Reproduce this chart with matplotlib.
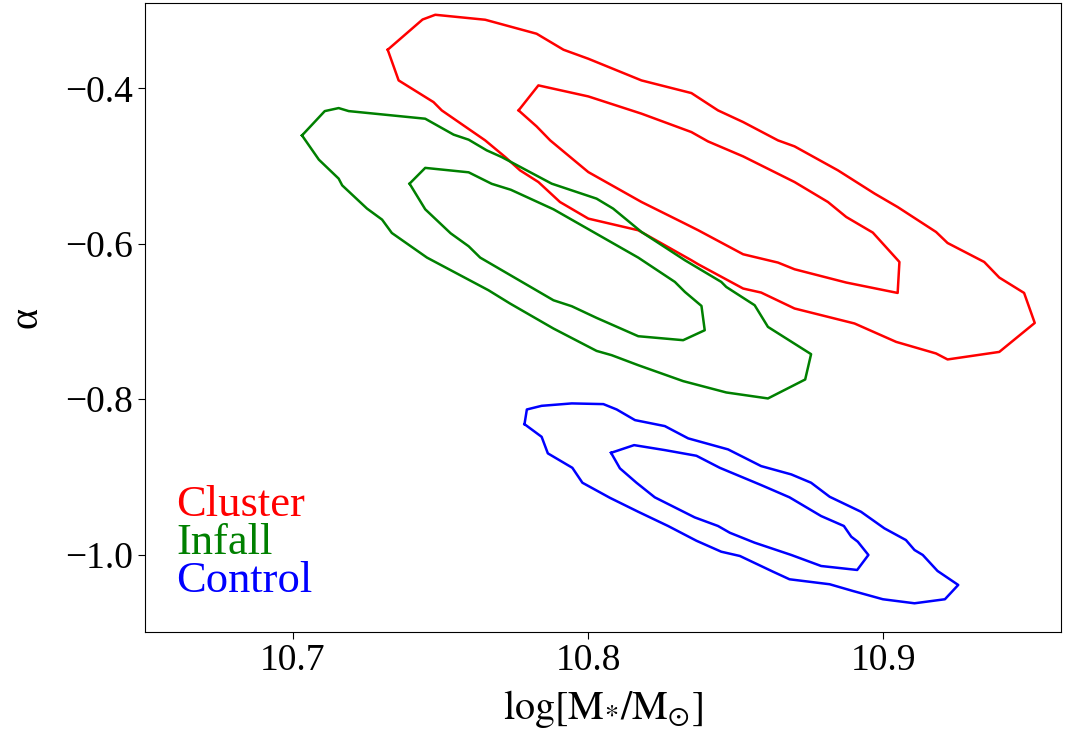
import matplotlib
matplotlib.use("Agg")
import matplotlib.pyplot as plt
import numpy as np

plt.rcParams["font.family"] = ["Liberation Serif", "DejaVu Serif"]
plt.rcParams["mathtext.fontset"] = "stix"

# confidence contours in the (log M*, alpha) plane, vertices in data units
cluster_outer_x = [10.7322, 10.7440, 10.7483, 10.7652, 10.7826, 10.7917, 10.8001, 10.8181,
                   10.8350, 10.8440, 10.8525, 10.8643, 10.8699, 10.8846, 10.8970, 10.9048,
                   10.9178, 10.9217, 10.9341, 10.9392, 10.9476, 10.9512, 10.9392, 10.9217,
                   10.9178, 10.9043, 10.8902, 10.8699, 10.8586, 10.8525, 10.8373, 10.8350,
                   10.8170, 10.8001, 10.7905, 10.7832, 10.7770, 10.7720, 10.7652, 10.7505,
                   10.7477, 10.7359]
cluster_outer_y = [-0.3502, -0.3113, -0.3052, -0.3116, -0.3296, -0.3502, -0.3618, -0.3897,
                   -0.4060, -0.4283, -0.4433, -0.4669, -0.4746, -0.5055, -0.5354, -0.5527,
                   -0.5848, -0.5990, -0.6234, -0.6435, -0.6633, -0.7019, -0.7392, -0.7489,
                   -0.7412, -0.7263, -0.7026, -0.6833, -0.6628, -0.6576, -0.6264, -0.6212,
                   -0.5826, -0.5676, -0.5462, -0.5205, -0.5055, -0.4884, -0.4669, -0.4283,
                   -0.4176, -0.3897]

cluster_inner_x = [10.7765, 10.7832, 10.8001, 10.8181, 10.8350, 10.8406, 10.8525, 10.8699,
                   10.8812, 10.8874, 10.8964, 10.9054, 10.9048, 10.8874, 10.8699, 10.8643,
                   10.8525, 10.8373, 10.8328, 10.8181, 10.8001, 10.7933, 10.7872, 10.7826]
cluster_inner_y = [-0.4283, -0.3961, -0.4103, -0.4325, -0.4562, -0.4682, -0.4875, -0.5205,
                   -0.5462, -0.5655, -0.5856, -0.6234, -0.6633, -0.6499, -0.6328, -0.6242,
                   -0.6135, -0.5826, -0.5740, -0.5462, -0.5077, -0.4862, -0.4669, -0.4489]

infall_outer_x = [10.7032, 10.7109, 10.7156, 10.7190, 10.7449, 10.7545, 10.7596, 10.7657,
                  10.7708, 10.7877, 10.8029, 10.8085, 10.8181, 10.8328, 10.8451, 10.8468,
                  10.8564, 10.8609, 10.8755, 10.8735, 10.8609, 10.8468, 10.8322, 10.8170,
                  10.8080, 10.8029, 10.7883, 10.7736, 10.7663, 10.7455, 10.7336, 10.7303,
                  10.7252, 10.7168, 10.7156, 10.7089]
infall_outer_y = [-0.4605, -0.4292, -0.4253, -0.4292, -0.4390, -0.4595, -0.4660, -0.4797,
                  -0.4884, -0.5226, -0.5419, -0.5547, -0.5848, -0.6212, -0.6491, -0.6556,
                  -0.6791, -0.7070, -0.7421, -0.7747, -0.7991, -0.7914, -0.7768, -0.7563,
                  -0.7434, -0.7379, -0.7091, -0.6769, -0.6598, -0.6178, -0.5861, -0.5689,
                  -0.5547, -0.5248, -0.5161, -0.4917]

infall_inner_x = [10.7396, 10.7449, 10.7596, 10.7674, 10.7739, 10.7883, 10.8170, 10.8294,
                  10.8328, 10.8384, 10.8395, 10.8322, 10.8170, 10.8029, 10.7945, 10.7883,
                  10.7635, 10.7596, 10.7535, 10.7449]
infall_inner_y = [-0.5226, -0.5023, -0.5080, -0.5228, -0.5305, -0.5556, -0.6178, -0.6491,
                  -0.6620, -0.6800, -0.7113, -0.7241, -0.7190, -0.6954, -0.6804, -0.6727,
                  -0.6178, -0.6032, -0.5865, -0.5556]

control_outer_x = [10.7785, 10.7793, 10.7843, 10.7945, 10.8052, 10.8097, 10.8159, 10.8260,
                   10.8339, 10.8474, 10.8586, 10.8688, 10.8755, 10.8818, 10.8924, 10.9003,
                   10.9076, 10.9105, 10.9133, 10.9183, 10.9253, 10.9208, 10.9105, 10.8998,
                   10.8896, 10.8818, 10.8682, 10.8626, 10.8514, 10.8451, 10.8367, 10.8271,
                   10.8170, 10.8074, 10.7981, 10.7947, 10.7864, 10.7843]
control_outer_y = [-0.8322, -0.8133, -0.8086, -0.8055, -0.8064, -0.8133, -0.8270, -0.8347,
                   -0.8505, -0.8647, -0.8862, -0.8969, -0.9076, -0.9257, -0.9450, -0.9663,
                   -0.9814, -0.9942, -1.0006, -1.0212, -1.0392, -1.0576, -1.0628, -1.0576,
                   -1.0469, -1.0383, -1.0319, -1.0221, -1.0019, -0.9964, -0.9823, -0.9633,
                   -0.9450, -0.9270, -0.9076, -0.8884, -0.8698, -0.8485]

control_inner_x = [10.8078, 10.8156, 10.8260, 10.8367, 10.8446, 10.8586, 10.8682, 10.8789,
                   10.8866, 10.8891, 10.8913, 10.8949, 10.8911, 10.8789, 10.8688, 10.8564,
                   10.8480, 10.8440, 10.8361, 10.8226, 10.8164, 10.8108]
control_inner_y = [-0.8691, -0.8592, -0.8656, -0.8729, -0.8884, -0.9106, -0.9264, -0.9505,
                   -0.9633, -0.9771, -0.9835, -1.0006, -1.0199, -1.0148, -1.0006, -0.9848,
                   -0.9720, -0.9633, -0.9522, -0.9264, -0.9076, -0.8891]

labels = ["Cluster", "Infall", "Control"]
colors = ["red", "green", "blue"]
xticks = [10.7, 10.8, 10.9]
yticks = [-0.4, -0.6, -0.8, -1.0]

samples = [
    [(cluster_outer_x, cluster_outer_y), (cluster_inner_x, cluster_inner_y)],
    [(infall_outer_x, infall_outer_y), (infall_inner_x, infall_inner_y)],
    [(control_outer_x, control_outer_y), (control_inner_x, control_inner_y)],
]

fig = plt.figure(figsize=(10.65, 7.42), dpi=100)
ax = fig.add_axes([0.136, 0.148, 0.860, 0.848])

for contours, c in zip(samples, colors):
    for cx, cy in contours:
        xs = np.append(cx, cx[0])   # close the loop
        ys = np.append(cy, cy[0])
        ax.plot(xs, ys, color=c, lw=1.8)

ax.set_xlim(10.65, 10.96)
ax.set_ylim(-1.10, -0.29)
ax.set_xticks(xticks)
ax.set_yticks(yticks)
ax.tick_params(labelsize=27, length=5, width=0.8)
ax.set_xlabel(r"$\mathrm{log[M_{*}/M_{\odot}]}$", fontsize=29, labelpad=7)
ax.set_ylabel("α", fontsize=29, labelpad=14)

for i, (lab, c) in enumerate(zip(labels, colors)):
    ax.text(0.034, 0.184 - i * 0.060, lab, color=c, fontsize=32,
            transform=ax.transAxes, va="baseline", ha="left")

fig.savefig("out.png", dpi=100)
